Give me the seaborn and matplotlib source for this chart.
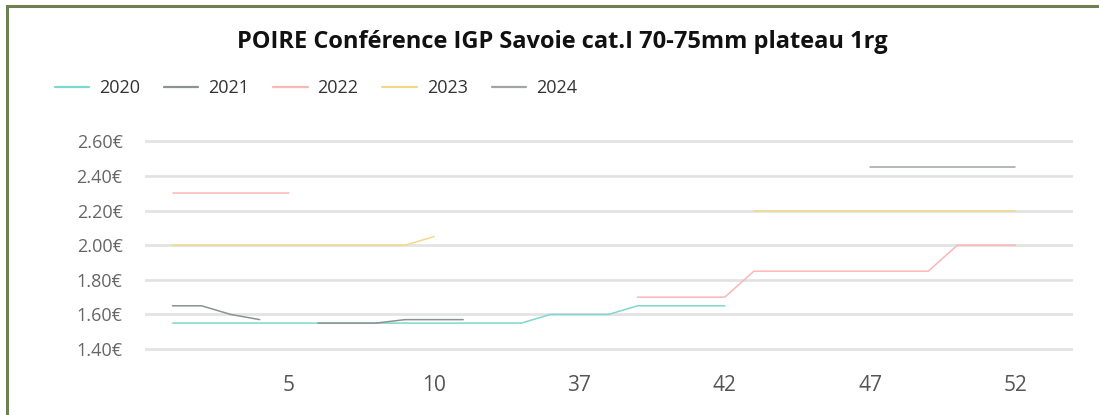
import numpy as np
import pandas as pd
import seaborn as sns
import matplotlib
matplotlib.use("Agg")
import matplotlib.pyplot as plt
from matplotlib.patches import Rectangle

# ---- data ----
weeks = [1, 2, 3, 4, 5, 6, 7, 8, 9, 10, 11, 12,
         35, 36, 37, 38, 39, 40, 41, 42, 43, 44, 45, 46, 47, 48, 49, 50, 51, 52]
N = None
y2020 = [1.55] * 13 + [1.60] * 3 + [1.65] * 4 + [N] * 10
y2021 = [1.65, 1.65, 1.60, 1.57, N, 1.55, 1.55, 1.55, 1.57, 1.57, 1.57] + [N] * 19
y2022 = [2.30] * 5 + [N] * 11 + [1.70] * 4 + [1.85] * 7 + [2.00] * 3
y2023 = [2.00] * 9 + [2.05] + [N] * 10 + [2.20] * 10
y2024 = [N] * 24 + [2.45] * 6
years = ["2020", "2021", "2022", "2023", "2024"]
series = [y2020, y2021, y2022, y2023, y2024]
shown_ticks = [5, 10, 37, 42, 47, 52]
y_ticks = [1.40, 1.60, 1.80, 2.00, 2.20, 2.40, 2.60]
title = "POIRE Conférence IGP Savoie cat.I 70-75mm plateau 1rg"

colors = ["#7fd8cf", "#8a9292", "#fbb6b6", "#f1d98a", "#9fa4a4"]

# long-form table, with a segment id to break lines at gaps
rows = []
for yr, vals in zip(years, series):
    seg = 0
    prev_none = True
    for i, v in enumerate(vals):
        if v is None:
            prev_none = True
            continue
        if prev_none:
            seg += 1
            prev_none = False
        rows.append({"pos": i, "week": weeks[i], "price": v, "year": yr,
                     "seg": f"{yr}-{seg}"})
df = pd.DataFrame(rows)

sns.set_theme(style="white")
plt.rcParams["font.family"] = ["Open Sans", "DejaVu Sans"]

fig = plt.figure(figsize=(10.99, 4.15), dpi=100)
ax = fig.add_axes([0.1319, 0.1506, 0.8444, 0.5169])

for y in y_ticks:
    ax.axhline(y, color="#e3e3e3", lw=2, zorder=0)

sns.lineplot(data=df, x="pos", y="price", hue="year", units="seg",
             estimator=None, palette=dict(zip(years, colors)),
             hue_order=years, linewidth=1.1, ax=ax, legend=True, sort=True)

ax.set_xlim(-0.95, 30.98)
ax.set_ylim(1.38, 2.62)
ax.set_yticks(y_ticks)
ax.set_yticklabels([f"{v:.2f}€" for v in y_ticks], fontsize=13, color="#666666")
ax.set_xticks([weeks.index(w) for w in shown_ticks])
ax.set_xticklabels([str(w) for w in shown_ticks], fontsize=15, color="#555555")
ax.tick_params(axis="both", length=0)
ax.tick_params(axis="y", pad=16)
ax.tick_params(axis="x", pad=16)
ax.set_xlabel("")
ax.set_ylabel("")
for s in ax.spines.values():
    s.set_visible(False)

handles, labels = ax.get_legend_handles_labels()
ax.get_legend().remove()
for h in handles:
    h.set_linewidth(1.6)
fig.legend(handles, labels, loc="center left", bbox_to_anchor=(0.035, 0.788),
           ncol=5, frameon=False, fontsize=13, handlelength=1.9,
           handletextpad=0.55, columnspacing=1.33, labelcolor="#333333")

fig.text(0.512, 0.9, title, ha="center", va="center", fontsize=17,
         fontweight="bold", color="#111111")

# outer frame
fig.patches.append(Rectangle((7 / 1099, -0.05), 1.2, 1.05 - 6 / 415,
                             transform=fig.transFigure, fill=False,
                             edgecolor="#6d8153", linewidth=2.2))

fig.savefig("out.png", dpi=100)
